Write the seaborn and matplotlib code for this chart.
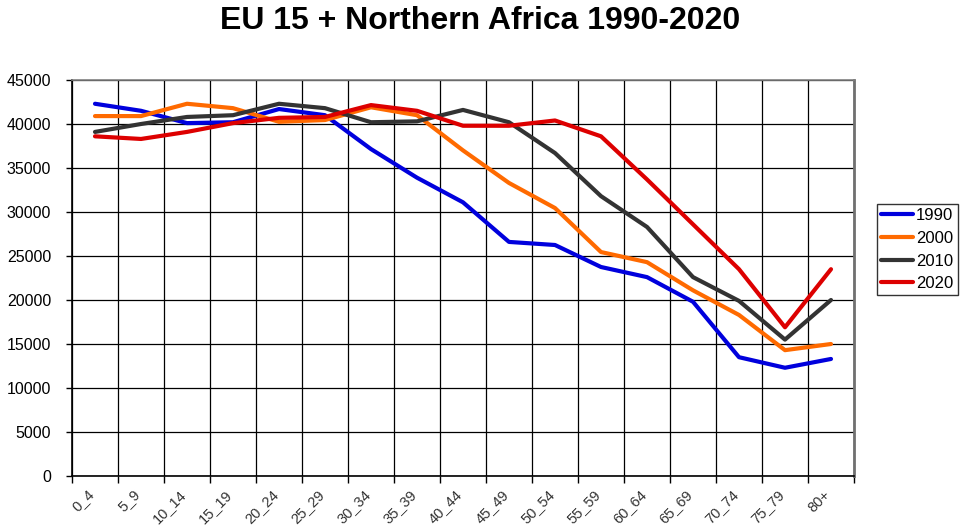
import numpy as np
import pandas as pd
import matplotlib
matplotlib.use("Agg")
import matplotlib.pyplot as plt
import matplotlib.transforms as mtransforms
import seaborn as sns

age_groups = ["0_4", "5_9", "10_14", "15_19", "20_24", "25_29", "30_34", "35_39",
              "40_44", "45_49", "50_54", "55_59", "60_64", "65_69", "70_74", "75_79", "80+"]
years = ["1990", "2000", "2010", "2020"]

pop_1990 = [42300, 41500, 40100, 40200, 41700, 41000, 37150, 33900, 31100,
            26600, 26250, 23750, 22600, 19800, 13500, 12300, 13300]
pop_2000 = [40900, 40900, 42300, 41800, 40250, 40450, 41900, 41000, 37000,
            33300, 30450, 25450, 24300, 21100, 18300, 14300, 15000]
pop_2010 = [39100, 40000, 40800, 41000, 42300, 41800, 40200, 40300, 41600,
            40200, 36700, 31800, 28300, 22600, 19900, 15500, 20000]
pop_2020 = [38600, 38300, 39100, 40100, 40700, 40800, 42150, 41500, 39800,
            39800, 40400, 38600, 33700, 28600, 23500, 16900, 23500]

colors = ["#0000DD", "#FF6A00", "#333333", "#DD0000"]

series = [pop_1990, pop_2000, pop_2010, pop_2020]
frames = []
for yr, vals in zip(years, series):
    frames.append(pd.DataFrame({"pos": np.arange(len(age_groups)),
                                "age": age_groups, "value": vals, "year": yr}))
df = pd.concat(frames, ignore_index=True)

sns.set_style("white")
plt.rcParams["font.family"] = ["Liberation Sans", "DejaVu Sans"]
plt.rcParams["text.color"] = "black"
plt.rcParams["xtick.color"] = "black"
plt.rcParams["ytick.color"] = "black"
plt.rcParams["axes.labelcolor"] = "black"

fig = plt.figure(figsize=(9.61, 5.28), dpi=100)
ax = fig.add_axes([72 / 961, 1 - 476 / 528, (854 - 72) / 961, (476 - 80) / 528])

sns.lineplot(data=df, x="pos", y="value", hue="year", palette=colors,
             linewidth=3, ax=ax, legend=True, sort=False)

n = len(age_groups)
ax.set_xlim(-0.5, n - 0.5)
ax.set_ylim(0, 45000)
ax.set_yticks(np.arange(0, 45001, 5000))
ax.set_yticklabels([str(v) for v in range(0, 45001, 5000)], fontsize=11.5)

# category labels at centers, gridlines/ticks at category boundaries
ax.set_xticks(np.arange(n))
ax.set_xticklabels(age_groups, rotation=45, ha="right", rotation_mode="anchor",
                   fontsize=10.5, color="#333333")
ax.tick_params(axis="x", which="major", length=0, pad=8)
shift = mtransforms.ScaledTranslation(-8 / 100, 0, fig.dpi_scale_trans)
for lbl in ax.get_xticklabels():
    lbl.set_transform(lbl.get_transform() + shift)
ax.set_xticks(np.arange(-0.5, n, 1), minor=True)
ax.tick_params(axis="x", which="minor", length=5, width=1, color="black", direction="out")
ax.tick_params(axis="y", length=4, width=1, color="black", direction="out", pad=11)
ax.xaxis.set_ticks_position("bottom")
ax.yaxis.set_ticks_position("left")

ax.grid(False)
ax.xaxis.grid(True, which="minor", color="black", linewidth=0.9)
ax.yaxis.grid(True, which="major", color="black", linewidth=0.9)
ax.set_axisbelow(True)

for side in ["left", "bottom"]:
    ax.spines[side].set_color("black")
    ax.spines[side].set_linewidth(1.2)
ax.spines["top"].set_color("#808080")
ax.spines["top"].set_linewidth(1.2)
ax.spines["right"].set_color("#707070")
ax.spines["right"].set_linewidth(2)

ax.set_xlabel("")
ax.set_ylabel("")

leg = ax.legend(title=None, loc="upper left",
                bbox_to_anchor=((877 - 72) / 782, (476 - 204) / 396),
                frameon=True, fancybox=False, fontsize=12, handlelength=1.9,
                handletextpad=0.2, borderpad=0.25, labelspacing=0.46,
                borderaxespad=0)
leg.get_frame().set_edgecolor("black")
leg.get_frame().set_linewidth(1)
for line in leg.get_lines():
    line.set_linewidth(3)

fig.text(0.5, 1 - 21 / 528, "EU 15 + Northern Africa 1990-2020", ha="center",
         va="center", fontsize=23, fontweight="bold", color="black")

fig.savefig("out.png", dpi=100, facecolor="white")
